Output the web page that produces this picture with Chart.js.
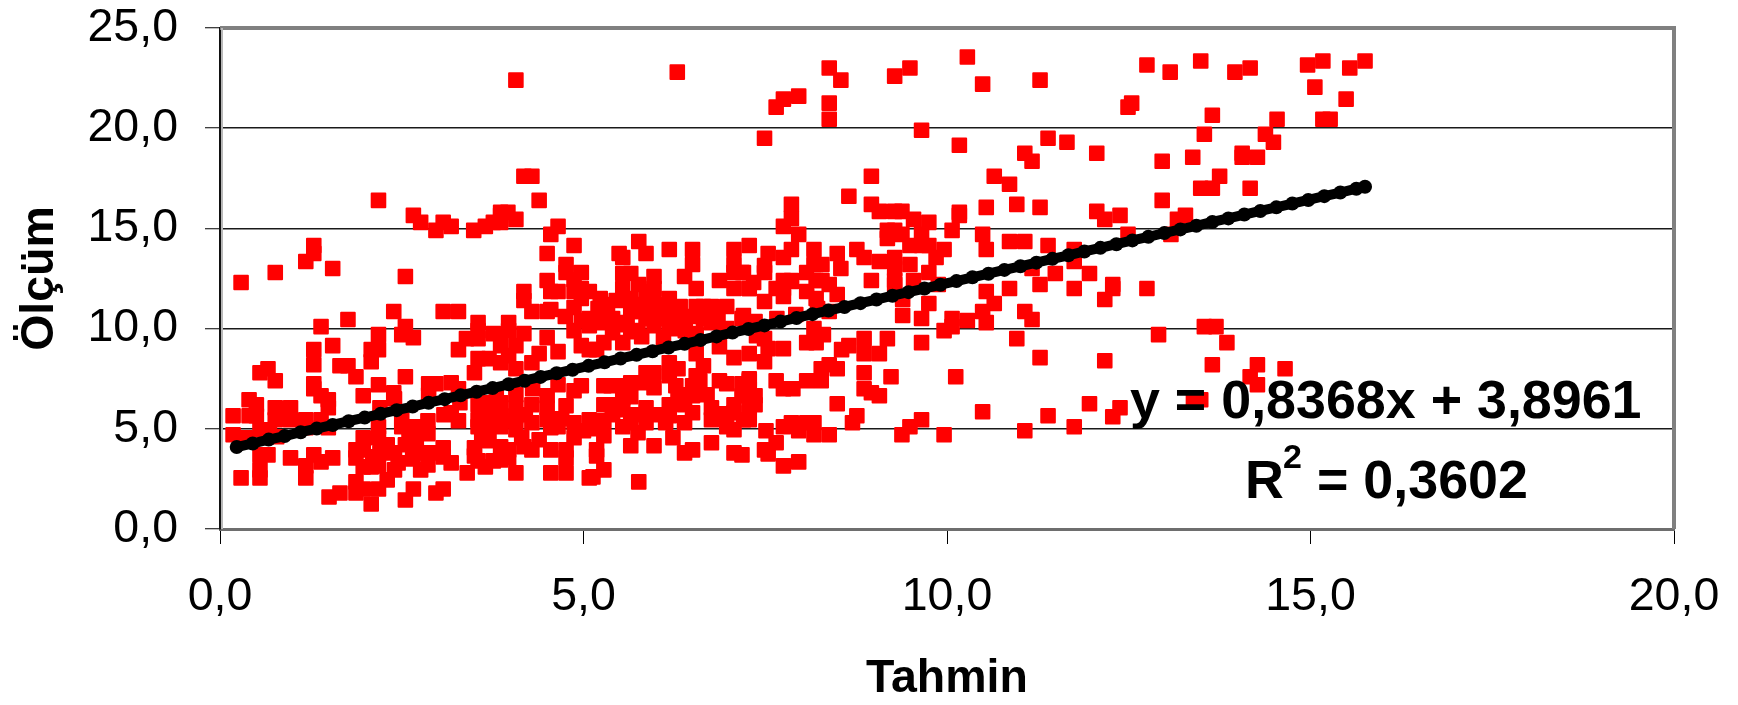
<!DOCTYPE html>
<html><head><meta charset="utf-8">
<style>html,body{margin:0;padding:0;background:#fff}canvas{display:block}</style>
<script src="https://cdn.jsdelivr.net/npm/chart.js@4/dist/chart.umd.min.js"></script>
</head><body><canvas id="c" width="1738" height="705"></canvas>
<script>
const xTickLabels=["0,0","5,0","10,0","15,0","20,0"];
const yTickLabels=["0,0","5,0","10,0","15,0","20,0","25,0"];
const xTitle="Tahmin", yTitle="Ölçüm";
const equationText="y = 0,8368x + 3,8961";
const r2Parts=["R","2","= 0,3602"];
const trendX=[.23,.45,.67,.89,1.11,1.33,1.55,1.77,1.99,2.21,2.43,2.65,2.87,3.09,3.31,3.53,3.75,3.97,4.19,4.41,4.63,4.85,5.07,5.29,5.51,5.73,5.95,6.17,6.39,6.61,6.83,7.05,7.27,7.49,7.71,7.93,8.15,8.37,8.59,8.81,9.03,9.25,9.47,9.69,9.91,10.13,10.35,10.57,10.79,11.01,11.23,11.45,11.67,11.89,12.11,12.33,12.55,12.77,12.99,13.21,13.43,13.65,13.87,14.09,14.31,14.53,14.75,14.97,15.19,15.41,15.63,15.75];
const trendY=[4.09,4.27,4.46,4.64,4.83,5.01,5.19,5.38,5.56,5.75,5.93,6.11,6.30,6.48,6.67,6.85,7.03,7.22,7.40,7.59,7.77,7.95,8.14,8.32,8.51,8.69,8.87,9.06,9.24,9.43,9.61,9.80,9.98,10.16,10.35,10.53,10.72,10.90,11.08,11.27,11.45,11.64,11.82,12.00,12.19,12.37,12.56,12.74,12.93,13.11,13.29,13.48,13.66,13.85,14.03,14.21,14.40,14.58,14.77,14.95,15.13,15.32,15.50,15.69,15.87,16.05,16.24,16.42,16.61,16.79,16.98,17.08];
const upperLeft=[[4.07,22.4],[6.29,22.8],[7.49,19.5],[2.18,16.4],[2.66,15.65],[2.76,15.3],[2.97,14.9],[3.07,15.3],[3.18,15.1],[3.49,14.9],[3.65,15.1],[3.76,15.3],[3.86,15.3],[3.86,15.65],[3.96,15.8],[3.86,15.8],[4.07,15.45],[4.18,17.6],[4.29,17.6],[4.39,16.4],[4.65,15.1],[4.55,14.7],[4.5,13.75],[4.87,14.15],[4.76,13.2],[4.76,12.8],[4.87,12.45],[4.97,12.8],[4.5,12.4],[5.49,13.75],[5.54,13.55],[5.76,14.35],[5.86,13.75],[5.54,12.75],[5.65,12.75],[5.97,12.6],[6.18,13.95],[6.5,13.95],[6.5,13.2],[6.39,12.6],[6.87,12.4],[7.07,13.95],[7.07,13.2],[7.07,12.8],[7.18,12.8],[7.28,14.15],[7.49,13.15],[7.34,12.3],[1.29,14.15],[1.29,13.75],[1.18,13.35],[.76,12.8],[1.55,13],[.29,12.3],[2.55,12.6]];
const leftBand=[[4.18,11.85],[4.18,11.4],[4.55,11.85],[4.65,11.85],[4.87,11.85],[4.97,12],[5.08,11.85],[5.23,11.5],[5.33,11.2],[5.54,12],[5.65,11.5],[5.86,11.85],[5.97,12],[6.18,11.5],[6.55,12],[7.07,12],[7.28,12],[4.29,10.85],[4.55,10.95],[4.87,11.05],[2.39,10.85],[3.07,10.85],[3.28,10.85],[1.76,10.45],[1.39,10.1],[2.55,10.1],[2.18,9.7],[2.5,9.7],[2.66,9.55],[1.29,8.95],[1.55,9.15],[2.08,8.95],[2.18,8.95],[2.08,8.35],[1.29,8.2],[1.65,8.15],[1.76,8.15],[1.87,7.6],[.66,8],[.55,7.8],[.76,7.4],[1.29,7.25],[1.29,7],[1.39,6.65],[1.49,6.45],[1.49,6.05],[2.18,7.2],[2.55,7.6],[1.97,6.65],[2.39,6.8],[.4,6.45],[.5,6.2],[.18,5.65],[.4,5.65],[.5,5.65],[.76,6.05],[.97,6.05],[.76,5.45],[.97,5.45],[1.18,5.45],[1.39,5.45],[.18,4.7],[.35,4.55],[.55,4.95],[.68,4.95],[.78,4.6],[1.18,5.05],[1.49,5.05],[.55,3.7],[.66,3.7],[.97,3.55],[1.29,3.7],[1.39,3.35],[1.55,3.55],[1.18,3.15],[1.18,2.55],[.29,2.55],[.55,2.95],[.55,2.55],[1.5,1.6],[1.65,1.8],[1.87,1.8],[1.87,2.35],[2.08,1.25],[2.18,2],[1.97,2],[2.55,1.45],[2.66,2],[2.97,1.8],[3.07,2]];
const lowerCluster=[[1.97,4.55],[1.87,3.95],[1.97,3.95],[1.87,3.55],[1.97,3.1],[2.08,3.1],[2.18,5.1],[2.18,4.55],[2.4,3.8],[2.5,5.1],[2.6,5.1],[2.6,4.6],[2.7,4.45],[2.76,5.1],[2.86,5.4],[2.86,4.75],[2.2,3.8],[2.18,3.15],[2.4,2.95],[2.3,2.45],[2.76,2.95],[2.86,3.2],[2.76,3.8],[2.92,3.8],[3.07,4.05],[3.07,3.6],[3.18,3.3],[2.5,5.45],[2.2,6.05],[2.4,6.5],[2.3,4.2],[2.55,4.2],[2.65,3.5],[2.45,3.3],[2.1,3.6]];
const midUpper=[[3.28,8.95],[3.39,9.5],[3.55,10.3],[3.55,9.9],[3.55,9.5],[3.55,8.5],[3.5,7.8],[3.76,9.75],[3.86,9.15],[3.86,8.3],[3.97,10.3],[3.97,9.9],[4.07,9.15],[4.18,9.75],[4.07,8],[4.29,8.3],[4.39,8.75],[4.5,9.55],[4.65,8.85],[3.7,8.5],[3.97,8.65],[4.87,9.9],[4.97,9.15],[5.08,8.95],[5.18,8.95],[5.08,10.5],[5.08,10.15],[5.28,10.3],[5.28,9.3],[5.54,10.3],[5.54,9.3],[4.97,11.5],[5.28,10.85],[5.65,10.85],[5.65,9.85],[5.76,10.85],[5.86,10.5],[5.97,11.5],[5.97,10.85],[5.97,10.15],[6.07,10.5],[6.18,10.85],[6.18,10.15],[6.33,10.5],[6.33,11.1],[6.55,11.1],[6.65,11.1],[6.76,11.1],[6.97,11.1],[6.65,10.5],[6.76,10.3],[6.55,9.75],[6.97,10],[7.18,10.5],[7.39,9.85],[5.76,12.2],[4.5,10.85],[4.97,10.4],[5.4,9.8],[5.8,9.6],[6.1,9.55],[6.4,9.9],[5.4,10.5],[5.6,10.2],[5.75,9.9],[6.3,10],[6.85,10.6],[6.5,10.6],[5.2,11],[4.75,10.6],[6.05,11.2],[5.8,11.2],[5.45,11.4]];
const midLower=[[2.87,7.25],[3.18,7.3],[2.97,7.25],[3.28,7],[2.87,6.7],[3.08,5.7],[3.28,5.4],[3.18,5.8],[3.55,6.2],[3.55,5.45],[3.55,5.1],[3.7,6.3],[3.7,5.6],[3.86,6.3],[3.86,5.65],[3.86,5.1],[4.07,6.7],[4.07,6.05],[4.07,5.65],[4.07,4.95],[4.29,6.2],[4.29,5.3],[4.5,6.65],[4.5,6.05],[4.5,5.45],[4.65,5.1],[4.76,6.15],[4.87,5.3],[4.97,7.15],[5.08,5.45],[5.28,7.15],[5.38,7.15],[5.28,6.2],[5.38,6.2],[5.54,7.15],[5.65,7.3],[5.54,6.55],[5.54,5.95],[5.28,5.4],[5.54,5.1],[5.65,5.3],[5.86,6.05],[5.86,5.3],[5.97,7.05],[5.86,7.8],[5.97,7.8],[6.18,8.3],[6.18,7.65],[6.27,7.15],[6.5,7.15],[6.55,7.65],[6.55,8.75],[6.65,8.15],[6.18,6.2],[6.18,5.65],[6.13,5.3],[6.39,6.2],[6.5,6.65],[6.5,5.8],[6.39,5.3],[6.76,6.05],[6.76,5.45],[6.87,7.4],[6.97,7.25],[7.18,7.25],[7.28,7.4],[7.07,6.2],[7.18,6.65],[7.28,6.7],[7.07,5.8],[6.97,5.1],[7.07,4.95],[7.28,5.45],[7.07,8.55],[7.28,8.75],[6.87,9.1],[3.5,4.05],[3.5,3.65],[3.55,3.4],[3.4,2.8],[3.65,3.1],[3.76,3.4],[3.86,4.1],[3.86,3.45],[3.97,3.95],[3.97,3.55],[4.07,2.8],[4.18,4.1],[4.29,3.95],[4.39,4.45],[4.55,3.95],[4.55,2.8],[4.76,3.95],[4.76,3.55],[4.76,2.8],[4.87,4.55],[4.55,5.05],[5.28,4.65],[5.18,3.95],[5.18,3.65],[5.28,2.95],[5.13,2.6],[5.08,2.55],[5.65,4.15],[5.97,4.15],[5.76,2.35],[6.23,4.55],[6.39,3.8],[6.5,3.95],[6.76,4.3],[7.07,3.8],[4.87,6.9],[4.65,7.2],[5.65,6.6],[4.3,7.0],[3.8,6.9],[5.0,4.9],[5.75,4.8],[5.7,5.7],[3.3,6.3],[3.95,5.4],[4.2,5.7],[3.65,4.95],[4.7,5.5],[5.1,5],[5.4,5.7],[6,5.7],[6.3,6.7],[6.7,6.7],[6.9,5.75],[6.6,7.4],[6.3,8.0],[5.8,7.3],[4.15,4.55],[3.7,4.4],[3.6,4.7]];
const upperRight=[[7.65,21.05],[7.75,21.45],[7.96,21.6],[8.38,23],[8.54,22.4],[8.38,21.25],[8.38,20.45],[9.28,22.6],[9.49,23],[9.65,19.9],[10.28,23.55],[10.49,22.2],[10.17,19.15],[11.28,22.4],[11.39,19.5],[11.65,19.3],[11.07,18.75],[11.17,18.35],[12.06,18.75],[12.49,21.05],[12.54,21.25],[12.75,23.15],[13.07,22.8],[13.49,23.35],[13.65,20.65],[13.54,19.7],[13.96,22.8],[14.17,23],[14.54,20.45],[14.38,19.7],[14.49,19.3],[14.96,23.15],[15.17,23.35],[15.06,22.05],[15.54,23],[15.75,23.35],[15.49,21.45],[15.17,20.45],[15.27,20.45],[13.38,18.55],[12.96,18.35],[14.06,18.75],[14.06,18.55],[14.27,18.55],[8.96,17.6],[10.65,17.6],[10.86,17.2],[8.65,16.6],[8.96,16.2],[9.07,15.85],[9.28,15.85],[9.38,15.85],[9.54,15.45],[9.75,15.3],[10.17,15.8],[10.17,15.65],[10.54,16.05],[10.96,16.2],[11.28,16.05],[12.06,15.85],[12.17,15.45],[12.38,15.65],[12.96,16.4],[13.75,17.6],[13.49,17],[13.65,17],[14.17,17],[13.28,15.65],[13.17,15.45],[7.86,16.2],[7.86,15.5],[7.75,15.1],[7.96,14.7],[12.49,14.7],[13.08,14.7],[10.49,14.7],[10.07,14.9],[9.18,14.9],[9.18,14.5],[9.28,14.9],[9.38,14.7],[9.65,14.7],[7.54,13.75],[7.49,12.8],[7.75,13.55],[7.86,13.95],[8.17,13.95],[8.49,13.75],[8.76,13.95],[8.86,13.55],[9.07,13.35],[8.17,13.2],[8.28,13.2],[8.54,13],[8.07,12.8],[7.75,12.4],[7.86,12.4],[8.2,12.4],[8.28,12.4],[8.96,12.4],[7.2,12.8],[9.28,13.55],[9.28,13],[9.49,14.15],[9.49,13.2],[9.65,14.15],[9.75,14.15],[9.96,13.95],[9.85,13.55],[9.75,12.8],[9.54,12.4],[9.28,12.4],[10.54,13.95],[10.86,14.35],[11.07,14.35],[11.39,14.15],[11.75,13.95],[11.75,13.35],[11.49,12.75],[11.17,13],[11.96,12.75],[12.28,12],[11.28,12.2]];
const lowerRight=[[7.28,12],[7.65,12],[7.75,12],[7.86,12.35],[7.75,11.6],[7.49,11.35],[8.07,11.85],[8.2,11.5],[8.38,12.2],[8.49,11.7],[9.28,12.2],[10.54,11.85],[10.65,11.25],[10.86,12],[11.75,12],[12.28,12.2],[12.17,11.45],[12.75,12],[9.88,12.2],[9.39,11.45],[9.39,10.65],[9.75,11.25],[9.65,10.5],[10.07,10.5],[10.07,10.1],[9.96,9.9],[10.28,10.4],[10.49,10.85],[10.54,10.3],[11.07,10.85],[11.17,10.45],[10.96,9.5],[11.28,8.55],[12.17,8.4],[12.91,9.7],[13.54,10.1],[13.7,10.1],[13.85,9.3],[13.65,8.2],[14.27,8.2],[14.65,8],[14.17,7.6],[14.27,7.2],[13.39,6.5],[13.49,6.45],[11.96,6.25],[12.38,6.05],[12.28,5.6],[11.39,5.65],[11.75,5.1],[11.07,4.9],[10.49,5.85],[10.12,7.6],[9.65,5.45],[9.49,5.1],[9.38,4.7],[9.96,4.7],[9.23,7.6],[8.86,7.8],[8.86,7],[8.96,6.8],[9.07,6.65],[8.49,6.25],[8.76,5.65],[8.7,5.3],[8.38,8.2],[8.27,8],[8.49,8],[8.27,7.4],[8.07,7.4],[7.88,7],[7.75,7],[7.65,7.4],[9.65,9.3],[8.86,9.5],[9.18,9.5],[8.55,8.95],[8.65,9.15],[8.86,8.75],[9.07,8.75],[8.07,9.3],[8.2,9.3],[8.17,10],[8.3,9.7],[7.75,9],[7.54,9],[7.49,8.35],[7.49,9.5],[7.38,9.65],[8.22,11],[7.92,10.7],[7.66,10.5],[7.36,10.35],[8.38,10.85],[7.2,10.65],[7.51,4.9],[7.75,5.1],[7.86,5.3],[7.96,4.9],[8.07,5.3],[8.17,5.3],[8.17,4.7],[8.38,4.7],[7.65,4.3],[7.49,3.95],[7.54,3.75],[7.75,3.15],[7.96,3.35],[7.28,7.5],[7.28,7],[7.36,6.65],[7.36,6.2],[7.28,6.05],[7.2,5.45],[7.18,3.7]];
const scatterPairs=[...upperLeft,...leftBand,...lowerCluster,...midUpper,...midLower,...upperRight,...lowerRight];

const framePlugin={id:'frame',
 beforeDatasetsDraw(ch){const a=ch.chartArea,c=ch.ctx;c.save();
  c.strokeStyle='#808080';c.lineWidth=4;c.beginPath();c.moveTo(a.left,a.top);c.lineTo(a.right,a.top);c.lineTo(a.right,a.bottom);c.stroke();
  c.strokeStyle='#b8b8b8';c.lineWidth=2;c.beginPath();c.moveTo(a.left+2,a.top);c.lineTo(a.left+2,a.bottom);c.stroke();c.restore();c.lineJoin='round';},
 afterDraw(ch){const c=ch.ctx;c.save();c.fillStyle='#000';c.textAlign='left';c.textBaseline='alphabetic';
  c.font='bold 53.8px "Liberation Sans"';c.fillText(equationText,1130,418);
  c.fillText(r2Parts[0],1245,498);c.fillText(r2Parts[2],1317,498);
  c.font='bold 34px "Liberation Sans"';c.fillText(r2Parts[1],1283,468);c.restore();}
};
const fnt=(w,s)=>({family:'"Liberation Sans"',size:s,weight:w,lineHeight:1});
new Chart(document.getElementById('c'),{type:'scatter',plugins:[framePlugin],
 data:{datasets:[
  {label:'Trend',type:'scatter',order:1,data:trendX.map((x,i)=>({x,y:trendY[i]})),showLine:true,borderColor:'#000',borderWidth:10,backgroundColor:'#000',pointRadius:7,pointBorderWidth:0,pointBackgroundColor:'#000'},
  {label:'Ölçüm',order:2,data:scatterPairs.map(p=>({x:p[0],y:p[1]})),pointStyle:'rect',pointRadius:9.6,pointBackgroundColor:'#ff0000',pointBorderColor:'#ff0000',pointBorderWidth:2}
 ]},
 options:{responsive:false,animation:false,devicePixelRatio:1,
  layout:{padding:{top:28,right:64,left:0,bottom:0}},
  plugins:{legend:{display:false},tooltip:{enabled:false}},
  elements:{point:{hoverRadius:0}},
  scales:{
   x:{type:'linear',min:0,max:20,afterFit(s){s.height=176;s.paddingLeft=0;s.paddingRight=0},
    afterBuildTicks(s){s.ticks=xTickLabels.map((_,i)=>({value:i*5}))},
    ticks:{callback:(v,i)=>xTickLabels[i],color:'#000',font:fnt('normal',46.5),padding:30,maxRotation:0,autoSkip:false},
    grid:{drawOnChartArea:false,drawTicks:true,tickLength:15,tickColor:'#000',tickWidth:1},
    border:{display:true,color:'#6e6e6e',width:3},
    title:{display:true,text:xTitle,color:'#000',font:fnt('bold',46.5),padding:{top:0,bottom:3}}},
   y:{type:'linear',min:0,max:25,afterFit(s){s.width=220;s.paddingTop=0;s.paddingBottom=0},
    afterBuildTicks(s){s.ticks=yTickLabels.map((_,i)=>({value:i*5}))},
    ticks:{callback:(v,i)=>yTickLabels[i],color:'#000',font:fnt('normal',46.5),padding:27,autoSkip:false},
    grid:{color:'#1a1a1a',lineWidth:1.5,tickLength:15,tickColor:'#000',tickWidth:1},
    border:{display:true,color:'#111',width:2},
    title:{display:true,text:yTitle,color:'#000',font:fnt('bold',46.5),padding:{top:17,bottom:0}}}
  }}
});
</script></body></html>
